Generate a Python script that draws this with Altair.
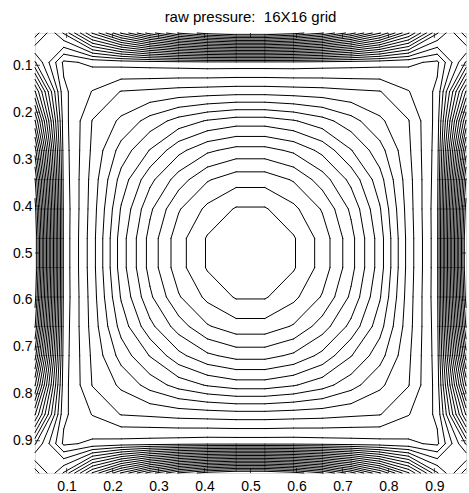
import altair as alt
import pandas as pd

# ---- data -------------------------------------------------------------
N = 16                                     # 16 x 16 grid of cell-centred pressure values
GRID = [(k + 0.5) / N for k in range(N)]   # grid coordinates 0.03125 ... 0.96875

# Pressure (in contour-level units) for one quadrant.
# QUAD[a][b]: a = column distance from the centre (0 next to centre, 7 at the wall),
#             b = row distance from the centre.  The field is 4-fold symmetric.
QUAD = [
    # b=0    1      2      3      4      5      6      7
    [0.19,  0.90,  2.40,  4.65,  7.50, 11.40, 14.70, 35.20],   # a=0
    [0.90,  1.75,  3.10,  5.20,  7.90, 11.50, 14.70, 34.50],   # a=1
    [2.40,  3.10,  4.50,  6.30,  8.60, 11.60, 14.60, 33.10],   # a=2
    [4.65,  5.20,  6.30,  7.95,  9.60, 11.80, 14.50, 30.50],   # a=3
    [7.50,  7.90,  8.60,  9.60, 10.80, 11.95, 14.40, 27.10],   # a=4
    [11.40, 11.50, 11.60, 11.80, 11.95, 12.95, 14.20, 23.10],  # a=5
    [14.70, 14.70, 14.60, 14.50, 14.40, 14.20, 13.80, 18.10],  # a=6
    [35.20, 34.50, 33.10, 30.50, 27.10, 23.10, 18.10, 14.50],  # a=7
]
LEVELS = list(range(1, 35))                # contour levels
TICKS = [0.1, 0.2, 0.3, 0.4, 0.5, 0.6, 0.7, 0.8, 0.9]
TITLE = "raw pressure:\u00a0 16X16 grid"

# ---- full grid from the quadrant --------------------------------------
def qidx(k):
    return 7 - k if k < 8 else k - 8

Z = [[QUAD[qidx(i)][qidx(j)] for i in range(N)] for j in range(N)]  # Z[row][col]

# ---- marching squares -------------------------------------------------
def crossing(pa, pb, za, zb, L):
    t = (L - za) / (zb - za)
    return (pa[0] + t * (pb[0] - pa[0]), pa[1] + t * (pb[1] - pa[1]))

rows = []
for L in LEVELS:
    for j in range(N - 1):
        for i in range(N - 1):
            P = [(GRID[i], GRID[j]), (GRID[i + 1], GRID[j]),
                 (GRID[i + 1], GRID[j + 1]), (GRID[i], GRID[j + 1])]
            V = [Z[j][i], Z[j][i + 1], Z[j + 1][i + 1], Z[j + 1][i]]
            hi = [v >= L for v in V]
            if all(hi) or not any(hi):
                continue
            pts = {}
            for e in range(4):
                a, b = e, (e + 1) % 4
                if hi[a] != hi[b]:
                    pts[e] = crossing(P[a], P[b], V[a], V[b], L)
            if len(pts) == 2:
                e1, e2 = list(pts)
                segs = [(pts[e1], pts[e2])]
            else:
                centre_hi = sum(V) / 4.0 >= L
                segs = []
                for c in range(4):
                    if hi[c] != centre_hi:
                        segs.append((pts[(c - 1) % 4], pts[c]))
            for p, q in segs:
                rows.append({"x": p[0], "y": p[1], "x2": q[0], "y2": q[1], "level": L})

seg_df = pd.DataFrame(rows)

DMIN, DMAX = GRID[0], GRID[-1]
xs = alt.Scale(domain=[DMIN, DMAX], nice=False, zero=False)
ys = alt.Scale(domain=[DMIN, DMAX], nice=False, zero=False, reverse=True)

FONT = "Liberation Sans"
XAX = alt.Axis(values=TICKS, format=".1f", ticks=False, domain=False, grid=False,
               labelPadding=6, labelFontSize=14, labelFont=FONT, labelColor="black", title=None)
YAX = alt.Axis(values=TICKS, format=".1f", ticks=False, domain=False, grid=False,
               labelPadding=3, labelFontSize=14, labelFont=FONT, labelColor="black", title=None)

contours = alt.Chart(seg_df).mark_rule(color="black", strokeWidth=1, strokeCap="round").encode(
    x=alt.X("x:Q", scale=xs, axis=XAX),
    y=alt.Y("y:Q", scale=ys, axis=YAX),
    x2="x2:Q",
    y2="y2:Q",
)

tick_df = pd.DataFrame({"t": TICKS, "lo": [DMIN] * len(TICKS), "hi": [DMAX] * len(TICKS)})

def tick_layer(xf, yf, orient, dx=0, dy=0):
    return alt.Chart(tick_df).mark_tick(color="black", thickness=1, size=5, orient=orient,
                                        xOffset=dx, yOffset=dy).encode(
        x=alt.X(xf, scale=xs, axis=XAX), y=alt.Y(yf, scale=ys, axis=YAX))

ticks = [tick_layer("t:Q", "hi:Q", "vertical", dy=-2.5),
         tick_layer("t:Q", "lo:Q", "vertical", dy=2.5),
         tick_layer("lo:Q", "t:Q", "horizontal", dx=2.5),
         tick_layer("hi:Q", "t:Q", "horizontal", dx=-2.5)]

chart = alt.layer(contours, *ticks).properties(
    width=431, height=440,
    autosize=alt.AutoSizeParams(type="none"),
    padding={"left": 35, "top": 33, "right": 3, "bottom": 20},
    title=alt.TitleParams(TITLE, fontSize=15, font=FONT, fontWeight="normal", color="black",
                          anchor="middle", offset=8),
).configure_view(stroke="black", strokeWidth=1).configure(background="white")

chart.save("out.html", embed_options={"renderer": "svg", "actions": False})
